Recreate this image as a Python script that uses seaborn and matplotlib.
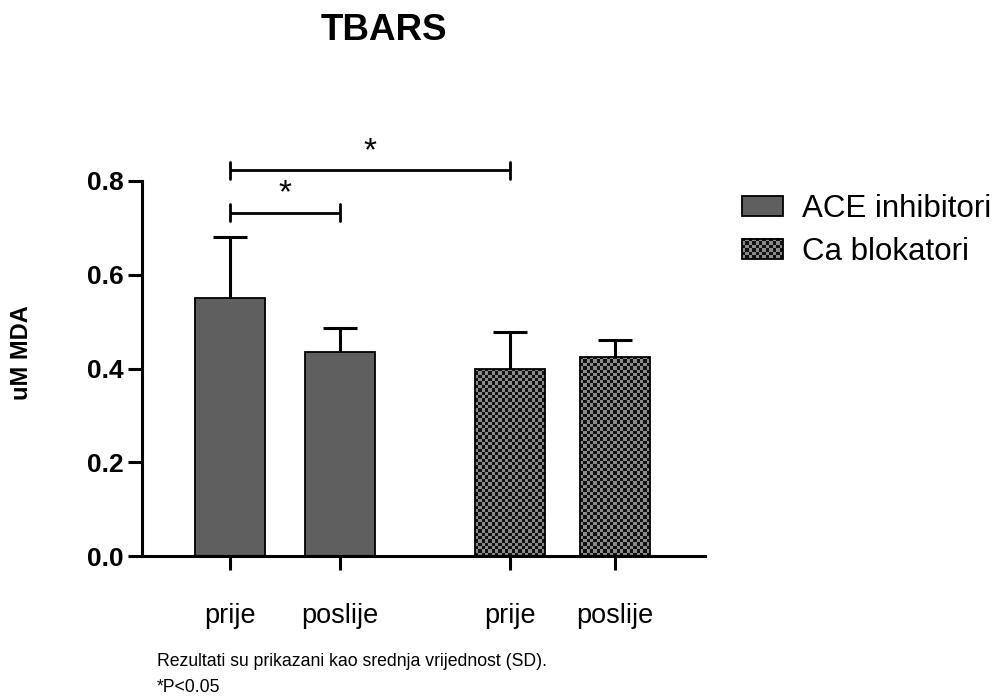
import numpy as np
import pandas as pd
import matplotlib
matplotlib.use("Agg")
import matplotlib.pyplot as plt
import seaborn as sns
from matplotlib.colors import ListedColormap
from matplotlib.patches import Rectangle
from matplotlib.legend_handler import HandlerBase
from matplotlib.image import BboxImage
from matplotlib.transforms import Bbox, TransformedBbox

# ---- data ----
groups = ["ACE inhibitori", "ACE inhibitori", "Ca blokatori", "Ca blokatori"]
timepoints = ["prije", "poslije", "prije", "poslije"]
means = [0.550, 0.435, 0.399, 0.425]
sds = [0.130, 0.051, 0.079, 0.036]
group_names = ["ACE inhibitori", "Ca blokatori"]
title = "TBARS"
ylabel = "uM MDA"
yticks = [0.0, 0.2, 0.4, 0.6, 0.8]
note_lines = ["Rezultati su prikazani kao srednja vrijednost (SD).", "*P<0.05"]
# significance: (index a, index b, label)
sig_pairs = [(0, 1, "*"), (0, 2, "*")]
sig_levels = [0.732, 0.823]

# ---- layout (positions, not data) ----
positions = [0.0, 1.0, 2.545, 3.5]

sns.set_theme(style="ticks")
plt.rcParams["font.family"] = ["Liberation Sans", "DejaVu Sans"]
for k in ["text.color", "axes.labelcolor", "xtick.color", "ytick.color", "axes.edgecolor"]:
    plt.rcParams[k] = "black"

fig = plt.figure(figsize=(9.98, 6.98), dpi=100)
ax = fig.add_axes([142 / 998, 1 - 556 / 698, (705 - 142) / 998, 375 / 698])

df = pd.DataFrame({"pos": positions, "mean": means, "group": groups})
ace_col = "#5f5f5f"
ca_col = "#8a8a8a"
sns.barplot(data=df, x="pos", y="mean", hue="group", native_scale=True,
            dodge=False, width=0.666, palette=[ace_col, ca_col],
            errorbar=None, edgecolor="black", linewidth=1.3, ax=ax,
            legend=False, saturation=1)

lw = 2.2
eb = ax.errorbar(positions, means, yerr=[np.zeros(len(sds)), sds], fmt="none",
                 ecolor="black", elinewidth=lw, capsize=12, capthick=lw, zorder=5)
# hide the lower caps (only upper SD shown)
eb.lines[1][0].set_visible(False)

ax.set_xlim(-0.8, 4.318)
ax.set_ylim(0, 0.8)

# checkerboard fill for Ca bars
checker_cmap = ListedColormap(["#111111", ca_col])
cell_px = 3.35
ca_rgba = matplotlib.colors.to_rgba(ca_col)
for patch in ax.patches:
    fc = patch.get_facecolor()
    if abs(fc[0] - ca_rgba[0]) < 0.02 and patch.get_height() > 0:
        x0 = patch.get_x(); w = patch.get_width(); h = patch.get_height()
        nx = max(1, int(round(w * 110 / cell_px)))
        ny = max(1, int(round(h * 468.75 / cell_px)))
        arr = (np.add.outer(np.arange(ny), np.arange(nx)) % 2).astype(float)
        im = ax.imshow(arr, extent=[x0, x0 + w, 0, h], cmap=checker_cmap,
                       interpolation="nearest", aspect="auto", origin="lower",
                       zorder=patch.get_zorder() + 0.05, vmin=0, vmax=1)
        im.set_clip_path(patch)
        patch.set_facecolor("none")
        patch.set_zorder(patch.get_zorder() + 0.1)

ax.set_xlim(-0.8, 4.318)
ax.set_ylim(0, 0.8)

ax.set_xticks(positions)
ax.set_xticklabels(timepoints, fontsize=19.5)
ax.set_yticks(yticks)
ax.set_yticklabels([f"{v:.1f}" for v in yticks], fontsize=19, fontweight="bold")
ax.tick_params(axis="x", length=10, width=lw, pad=24)
ax.tick_params(axis="y", length=10, width=lw, pad=3)
ax.set_xlabel("")
ax.set_ylabel("")
for s in ["left", "bottom"]:
    ax.spines[s].set_linewidth(lw)
for s in ["top", "right"]:
    ax.spines[s].set_visible(False)

# significance brackets
tick_h = 0.018
for (a, b, lab), lvl in zip(sig_pairs, sig_levels):
    xa, xb = positions[a], positions[b]
    ax.plot([xa, xb], [lvl, lvl], color="black", lw=2, clip_on=False, solid_capstyle="butt")
    ax.plot([xa, xa], [lvl - tick_h, lvl + tick_h], color="black", lw=2, clip_on=False)
    ax.plot([xb, xb], [lvl - tick_h, lvl + tick_h], color="black", lw=2, clip_on=False)
    ax.text((xa + xb) / 2, lvl + 0.04, lab, ha="center", va="center",
            fontsize=24, clip_on=False)

# legend
class CheckerHandler(HandlerBase):
    def create_artists(self, legend, orig_handle, xdescent, ydescent,
                       width, height, fontsize, trans):
        bb = Bbox.from_bounds(-xdescent, -ydescent, width, height)
        tbb = TransformedBbox(bb, trans)
        im = BboxImage(tbb, cmap=checker_cmap, interpolation="nearest",
                       norm=matplotlib.colors.Normalize(0, 1))
        arr = (np.add.outer(np.arange(6), np.arange(12)) % 2).astype(float)
        im.set_data(arr)
        rect = Rectangle((-xdescent, -ydescent), width, height,
                         facecolor="none", edgecolor="black", lw=1.3,
                         transform=trans)
        return [im, rect]

h1 = Rectangle((0, 0), 1, 1, facecolor=ace_col, edgecolor="black", lw=1.3)
h2 = Rectangle((0, 0), 1, 1, facecolor=ca_col, edgecolor="black", lw=1.3)
fig.legend([h1, h2], group_names, loc="upper left",
           bbox_to_anchor=(742 / 998, 1 - 194 / 698), frameon=False,
           fontsize=22.5, handlelength=1.3, handleheight=0.64,
           handletextpad=0.62, labelspacing=0.42, borderpad=0, borderaxespad=0,
           handler_map={h2: CheckerHandler()})

fig.text(384 / 998, 1 - 31 / 698, title, ha="center", va="center",
         fontsize=26.5, fontweight="bold")
fig.text(22 / 998, 1 - 353 / 698, ylabel, ha="center", va="center",
         rotation=90, fontsize=17, fontweight="bold")
fig.text(157 / 998, 1 - 662 / 698, note_lines[0], ha="left", va="center", fontsize=12.7)
fig.text(157 / 998, 1 - 688 / 698, note_lines[1], ha="left", va="center", fontsize=12.7)

fig.savefig("out.png", dpi=100)
